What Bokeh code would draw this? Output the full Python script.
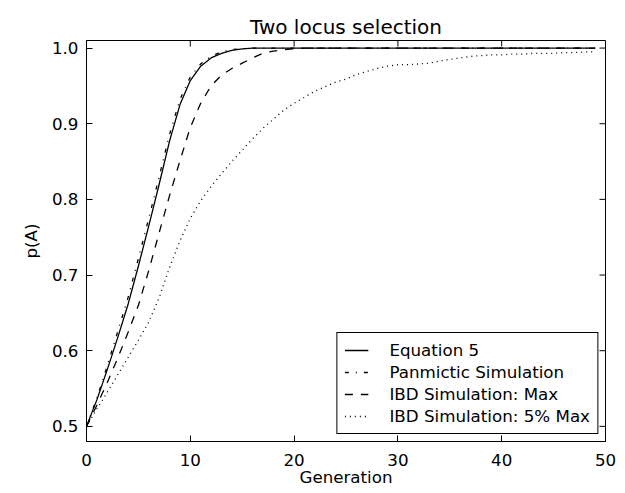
import math
from bokeh.plotting import figure
from bokeh.models import FixedTicker, PrintfTickFormatter
from bokeh.embed import file_html
from bokeh.resources import INLINE

generation = list(range(50))

equation5 = [0.500, 0.535, 0.575, 0.617, 0.661, 0.712, 0.765, 0.820, 0.877, 0.925,
             0.957, 0.976, 0.987, 0.993, 0.997, 0.999, 1.000, 1.000, 1.000, 1.000,
             1.000, 1.000, 1.000, 1.000, 1.000, 1.000, 1.000, 1.000, 1.000, 1.000,
             1.000, 1.000, 1.000, 1.000, 1.000, 1.000, 1.000, 1.000, 1.000, 1.000,
             1.000, 1.000, 1.000, 1.000, 1.000, 1.000, 1.000, 1.000, 1.000, 1.000]

panmictic = [0.500, 0.537, 0.580, 0.625, 0.670, 0.722, 0.775, 0.830, 0.886, 0.932,
             0.962, 0.979, 0.989, 0.995, 0.998, 0.999, 1.000, 1.000, 1.000, 1.000,
             1.000, 1.000, 1.000, 1.000, 1.000, 1.000, 1.000, 1.000, 1.000, 1.000,
             1.000, 1.000, 1.000, 1.000, 1.000, 1.000, 1.000, 1.000, 1.000, 1.000,
             1.000, 1.000, 1.000, 1.000, 1.000, 1.000, 1.000, 1.000, 1.000, 1.000]

ibd_max = [0.500, 0.528, 0.558, 0.590, 0.624, 0.660, 0.706, 0.756, 0.805, 0.851,
           0.895, 0.927, 0.950, 0.964, 0.973, 0.980, 0.987, 0.993, 0.996, 0.998,
           0.999, 1.000, 1.000, 1.000, 1.000, 1.000, 1.000, 1.000, 1.000, 1.000,
           1.000, 1.000, 1.000, 1.000, 1.000, 1.000, 1.000, 1.000, 1.000, 1.000,
           1.000, 1.000, 1.000, 1.000, 1.000, 1.000, 1.000, 1.000, 1.000, 1.000]

ibd_5pct = [0.500, 0.523, 0.545, 0.568, 0.591, 0.614, 0.638, 0.670, 0.710, 0.745,
            0.775, 0.798, 0.817, 0.834, 0.850, 0.865, 0.880, 0.894, 0.906, 0.918,
            0.927, 0.935, 0.943, 0.949, 0.955, 0.959, 0.965, 0.969, 0.973, 0.976,
            0.978, 0.978, 0.979, 0.980, 0.983, 0.985, 0.987, 0.989, 0.990, 0.991,
            0.991, 0.992, 0.992, 0.993, 0.993, 0.993, 0.994, 0.994, 0.995, 0.995]

x_ticks = [0, 10, 20, 30, 40, 50]
y_ticks = [0.5, 0.6, 0.7, 0.8, 0.9, 1.0]
x_lim = (0, 50)
y_lim = (0.48, 1.01)

FONT = "DejaVu Sans"
FS = "16.7px"

p = figure(width=625, height=493, x_range=x_lim, y_range=y_lim,
           output_backend="svg", toolbar_location=None,
           title="Two locus selection")
p.min_border_left = 86
p.min_border_right = 20
p.min_border_top = 40
p.min_border_bottom = 52

p.title.text_font = FONT
p.title.text_font_size = "20px"
p.title.text_font_style = "normal"
p.title.align = "center"
p.title.text_color = "black"
p.title.standoff = 4

p.grid.visible = False
p.outline_line_color = "black"
p.outline_line_width = 1

for ax in (p.xaxis[0], p.yaxis[0]):
    ax.major_tick_in = 6
    ax.major_tick_out = 0
    ax.minor_tick_line_color = None
    ax.axis_line_color = "black"
    ax.major_tick_line_color = "black"
    ax.major_label_text_font = FONT
    ax.major_label_text_font_size = FS
    ax.major_label_text_color = "black"
    ax.axis_label_text_font = FONT
    ax.axis_label_text_font_size = FS
    ax.axis_label_text_font_style = "normal"
    ax.axis_label_text_color = "black"

p.xaxis[0].ticker = FixedTicker(ticks=x_ticks)
p.yaxis[0].ticker = FixedTicker(ticks=y_ticks)
p.yaxis[0].formatter = PrintfTickFormatter(format="%.1f")
p.xaxis[0].axis_label = "Generation"
p.yaxis[0].axis_label = "p(A)"
p.xaxis[0].major_label_standoff = 12
p.yaxis[0].major_label_standoff = 8
p.xaxis[0].axis_label_standoff = -2
p.yaxis[0].axis_label_standoff = 8

# inward ticks on the top and right edges (half of each marker is clipped by the frame)
p.scatter(x_ticks, [y_lim[1]] * len(x_ticks), marker="dash", size=12, angle=math.pi / 2,
          line_color="black", line_width=1)
p.scatter([x_lim[1]] * len(y_ticks), y_ticks, marker="dash", size=12,
          line_color="black", line_width=1)

lw = 1.3
p.line(generation, equation5, line_color="black", line_width=lw, legend_label="Equation 5")
p.line(generation, panmictic, line_color="black", line_width=lw, line_dash="4 7 1 7",
       legend_label="Panmictic Simulation")
p.line(generation, ibd_max, line_color="black", line_width=lw, line_dash="8 8",
       legend_label="IBD Simulation: Max")
p.line(generation, ibd_5pct, line_color="black", line_width=lw, line_dash="1 4",
       legend_label="IBD Simulation: 5% Max")

lg = p.legend[0]
lg.location = "bottom_right"
lg.margin = 7
lg.padding = 7
lg.spacing = 2
lg.glyph_height = 20
lg.glyph_width = 24
lg.label_standoff = 21
lg.label_height = 20
lg.label_text_font = FONT
lg.label_text_font_size = FS
lg.label_text_color = "black"
lg.border_line_color = "black"
lg.border_line_width = 1
lg.border_line_alpha = 1
lg.background_fill_alpha = 1

open("out.html", "w").write(file_html(p, INLINE))
